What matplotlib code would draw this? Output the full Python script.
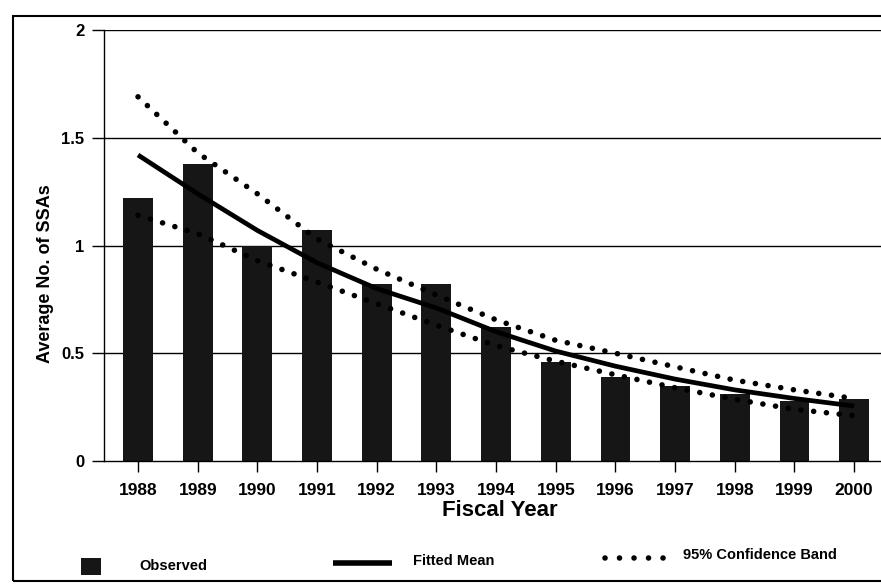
import matplotlib
matplotlib.use("Agg")
import matplotlib.pyplot as plt
from matplotlib.patches import Rectangle
from matplotlib.lines import Line2D
import numpy as np

plt.rcParams['font.family'] = ['Liberation Sans', 'DejaVu Sans']

years = ["1988", "1989", "1990", "1991", "1992", "1993", "1994",
         "1995", "1996", "1997", "1998", "1999", "2000"]
observed = [1.22, 1.38, 1.00, 1.07, 0.82, 0.82, 0.62, 0.46, 0.39, 0.35, 0.31, 0.28, 0.29]
fitted = [1.42, 1.24, 1.07, 0.92, 0.80, 0.71, 0.60, 0.51, 0.44, 0.38, 0.33, 0.29, 0.255]
upper = [1.69, 1.43, 1.24, 1.03, 0.89, 0.77, 0.655, 0.56, 0.50, 0.437, 0.375, 0.33, 0.29]
lower = [1.14, 1.055, 0.93, 0.83, 0.73, 0.63, 0.535, 0.463, 0.40, 0.34, 0.286, 0.24, 0.21]
yticks = [0, 0.5, 1, 1.5, 2]
ytick_labels = ["0", "0.5", "1", "1.5", "2"]

W, H = 881, 585
fig = plt.figure(figsize=(W / 100, H / 100), dpi=100)

def fx(px):
    return px / W

def fy(py):
    return (H - py) / H

ax = fig.add_axes([fx(104), fy(461), 1 - fx(104), fy(30) - fy(461)])
x = np.arange(len(years))
bar_color = '#161616'
ax.bar(x, observed, width=0.5, color=bar_color, zorder=2)
ax.plot(x, fitted, color='black', lw=3.4, solid_capstyle='butt', zorder=3)
dot_style = (0, (0.01, 2.3))
ax.plot(x, upper, color='black', lw=4, linestyle=dot_style,
        dash_capstyle='round', zorder=3)
ax.plot(x, lower, color='black', lw=4, linestyle=dot_style,
        dash_capstyle='round', zorder=3)

ax.set_xlim(-0.57, 12.45)
ax.set_ylim(0, 2)
ax.set_yticks(yticks)
ax.set_yticklabels(ytick_labels, fontsize=12, fontweight='bold')
ax.set_xticks(x)
ax.set_xticklabels(years, fontsize=12.5, fontweight='bold')
ax.tick_params(axis='x', direction='out', length=8, width=1, pad=8)
ax.tick_params(axis='y', direction='out', length=9, width=1, pad=5)
for yv in [0.5, 1.0, 1.5, 2.0]:
    ax.axhline(yv, color='black', lw=1.0, zorder=1)
ax.spines['right'].set_visible(False)
ax.spines['top'].set_visible(False)
ax.spines['left'].set_linewidth(1.0)
ax.spines['bottom'].set_linewidth(1.0)

ax.set_xlabel("Fiscal Year", fontsize=16, fontweight='bold')
ax.xaxis.set_label_coords((500 - 104) / (W - 104), -(511 - 461) / (461 - 30))
ax.set_ylabel("Average No. of SSAs", fontsize=13, fontweight='bold')
ax.yaxis.set_label_coords((46 - 104) / (W - 104), (461 - 274) / (461 - 30))
ax.yaxis.label.set_va('center')
ax.xaxis.label.set_va('center')

# outer frame
fig.patches.append(Rectangle((fx(13), fy(581)), fx(890) - fx(13), fy(16) - fy(581),
                             transform=fig.transFigure, fill=False,
                             edgecolor='black', lw=1.5))

# legend
fig.patches.append(Rectangle((fx(81), fy(575)), fx(101) - fx(81), fy(558) - fy(575),
                             transform=fig.transFigure, facecolor=bar_color,
                             edgecolor='none'))
fig.text(fx(139), fy(566), "Observed", fontsize=10.5, fontweight='bold',
         va='center', ha='left')
fig.lines.append(Line2D([fx(333), fx(392)], [fy(563), fy(563)],
                        transform=fig.transFigure, color='black', lw=4,
                        solid_capstyle='butt'))
fig.text(fx(413), fy(561), "Fitted Mean", fontsize=10.5, fontweight='bold',
         va='center', ha='left')
fig.lines.append(Line2D([fx(605), fx(664)], [fy(558), fy(558)],
                        transform=fig.transFigure, color='black', lw=4,
                        linestyle=(0, (0.01, 2.6)), dash_capstyle='round'))
fig.text(fx(683), fy(555), "95% Confidence Band", fontsize=10.5, fontweight='bold',
         va='center', ha='left')

fig.savefig("out.png", dpi=100)
